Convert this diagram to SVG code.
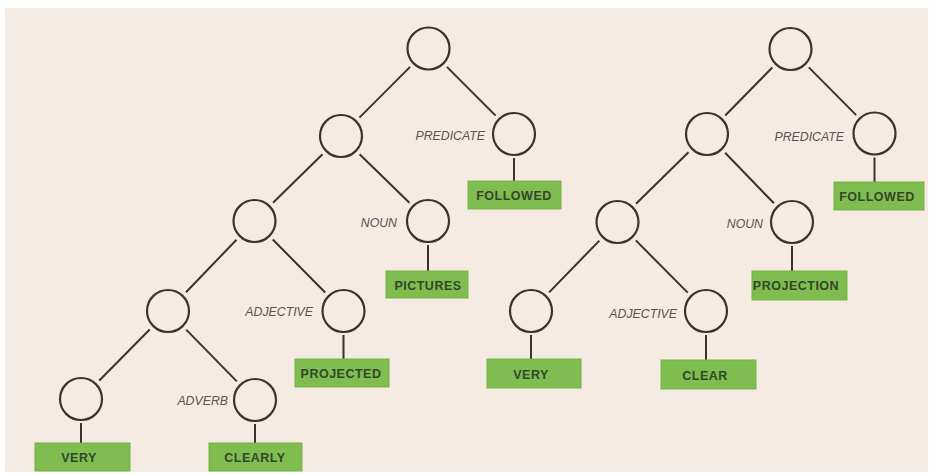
<svg xmlns="http://www.w3.org/2000/svg" width="931" height="474" viewBox="0 0 931 474">
  <style>
    .node { fill: none; stroke: #363331; stroke-width: 2.2; }
    .edge { stroke: #363331; stroke-width: 2; stroke-linecap: butt; fill: none; }
    .box { fill: #7fbd50; stroke: #74b246; stroke-width: 1; }
    .word { font-family: "Liberation Sans", Arial, sans-serif; font-weight: bold; font-size: 12.5px; fill: #34462a; text-anchor: middle; letter-spacing: 0.5px; }
    .role { font-family: "Liberation Sans", Arial, sans-serif; font-style: italic; font-size: 12.3px; fill: #585452; text-anchor: end; }
  </style>

  <!-- paper -->
  <rect x="0" y="0" width="931" height="474" fill="#ffffff"/>
  <rect x="5" y="8" width="923" height="464" fill="#f6ebe2"/>

  <!-- connectors -->
  <g id="connectors">
    <!-- left tree -->
    <line class="edge" x1="410.1" y1="66.9" x2="359.4" y2="117.6"/>
    <line class="edge" x1="446.9" y1="66.9" x2="495.6" y2="115.6"/>
    <line class="edge" x1="322.5" y1="154.2" x2="273" y2="202.8"/>
    <line class="edge" x1="359.6" y1="154.2" x2="409.4" y2="202.8"/>
    <line class="edge" x1="236.5" y1="239.7" x2="186" y2="292.3"/>
    <line class="edge" x1="272.8" y1="239.5" x2="325.2" y2="292.5"/>
    <line class="edge" x1="149.7" y1="329.5" x2="99.3" y2="380.5"/>
    <line class="edge" x1="186.2" y1="329.6" x2="236.8" y2="381.4"/>
    <line class="edge" x1="514" y1="158" x2="514" y2="181"/>
    <line class="edge" x1="428" y1="245" x2="428" y2="271"/>
    <line class="edge" x1="343.5" y1="335" x2="343.5" y2="359"/>
    <line class="edge" x1="81" y1="423" x2="81" y2="443"/>
    <line class="edge" x1="255" y1="424" x2="255" y2="443"/>
    <!-- right tree -->
    <line class="edge" x1="772.3" y1="67.5" x2="725.2" y2="115.5"/>
    <line class="edge" x1="808.8" y1="67.4" x2="856.2" y2="115.1"/>
    <line class="edge" x1="688.5" y1="152.2" x2="636" y2="203.8"/>
    <line class="edge" x1="725.1" y1="152.7" x2="773.9" y2="203.3"/>
    <line class="edge" x1="599.4" y1="240.6" x2="549.1" y2="292.4"/>
    <line class="edge" x1="635.8" y1="240.4" x2="687.7" y2="292.6"/>
    <line class="edge" x1="874.5" y1="157.5" x2="874.5" y2="182"/>
    <line class="edge" x1="792" y1="246" x2="792" y2="271"/>
    <line class="edge" x1="531" y1="335" x2="531" y2="359"/>
    <line class="edge" x1="706" y1="335" x2="706" y2="360"/>
  </g>

  <!-- left tree: "very clearly projected pictures followed" -->
  <g id="left-root"><circle class="node" cx="428.5" cy="48.5" r="21"/></g>
  <g id="left-subject"><circle class="node" cx="341" cy="136" r="21"/></g>
  <g id="left-predicate">
    <circle class="node" cx="514" cy="134" r="21"/>
    <text class="role" x="485" y="139.5">PREDICATE</text>
  </g>
  <g id="left-followed">
    <rect class="box" x="468" y="181" width="93" height="28"/>
    <text class="word" x="514" y="200">FOLLOWED</text>
  </g>
  <g id="left-modifier"><circle class="node" cx="254.5" cy="221" r="21"/></g>
  <g id="left-noun">
    <circle class="node" cx="428" cy="221" r="21"/>
    <text class="role" x="397" y="226.5">NOUN</text>
  </g>
  <g id="left-pictures">
    <rect class="box" x="386" y="271" width="82" height="27"/>
    <text class="word" x="428" y="289.5">PICTURES</text>
  </g>
  <g id="left-adverbial"><circle class="node" cx="168" cy="311" r="21"/></g>
  <g id="left-adjective">
    <circle class="node" cx="343.5" cy="311" r="21"/>
    <text class="role" x="313" y="316">ADJECTIVE</text>
  </g>
  <g id="left-projected">
    <rect class="box" x="295" y="359" width="94" height="28"/>
    <text class="word" x="341" y="378">PROJECTED</text>
  </g>
  <g id="left-very-node"><circle class="node" cx="81" cy="399" r="21"/></g>
  <g id="left-adverb">
    <circle class="node" cx="255" cy="400" r="21"/>
    <text class="role" x="228" y="405">ADVERB</text>
  </g>
  <g id="left-very">
    <rect class="box" x="35" y="443" width="95" height="28"/>
    <text class="word" x="79" y="462">VERY</text>
  </g>
  <g id="left-clearly">
    <rect class="box" x="209" y="443" width="93" height="28"/>
    <text class="word" x="255" y="462">CLEARLY</text>
  </g>

  <!-- right tree: "very clear projection followed" -->
  <g id="right-root"><circle class="node" cx="790.5" cy="49" r="21"/></g>
  <g id="right-subject"><circle class="node" cx="707" cy="134" r="21"/></g>
  <g id="right-predicate">
    <circle class="node" cx="874.5" cy="133.5" r="21"/>
    <text class="role" x="844" y="140.5">PREDICATE</text>
  </g>
  <g id="right-followed">
    <rect class="box" x="834" y="182" width="90" height="28"/>
    <text class="word" x="877" y="201">FOLLOWED</text>
  </g>
  <g id="right-modifier"><circle class="node" cx="617.5" cy="222" r="21"/></g>
  <g id="right-noun">
    <circle class="node" cx="792" cy="222" r="21"/>
    <text class="role" x="763" y="227.5">NOUN</text>
  </g>
  <g id="right-projection">
    <rect class="box" x="752" y="271" width="95" height="29"/>
    <text class="word" x="796" y="290">PROJECTION</text>
  </g>
  <g id="right-very-node"><circle class="node" cx="531" cy="311" r="21"/></g>
  <g id="right-adjective">
    <circle class="node" cx="706" cy="311" r="21"/>
    <text class="role" x="677" y="317.5">ADJECTIVE</text>
  </g>
  <g id="right-very">
    <rect class="box" x="487" y="359" width="94" height="29"/>
    <text class="word" x="531" y="378.5">VERY</text>
  </g>
  <g id="right-clear">
    <rect class="box" x="661" y="360" width="95" height="29"/>
    <text class="word" x="705" y="379.5">CLEAR</text>
  </g>
</svg>
